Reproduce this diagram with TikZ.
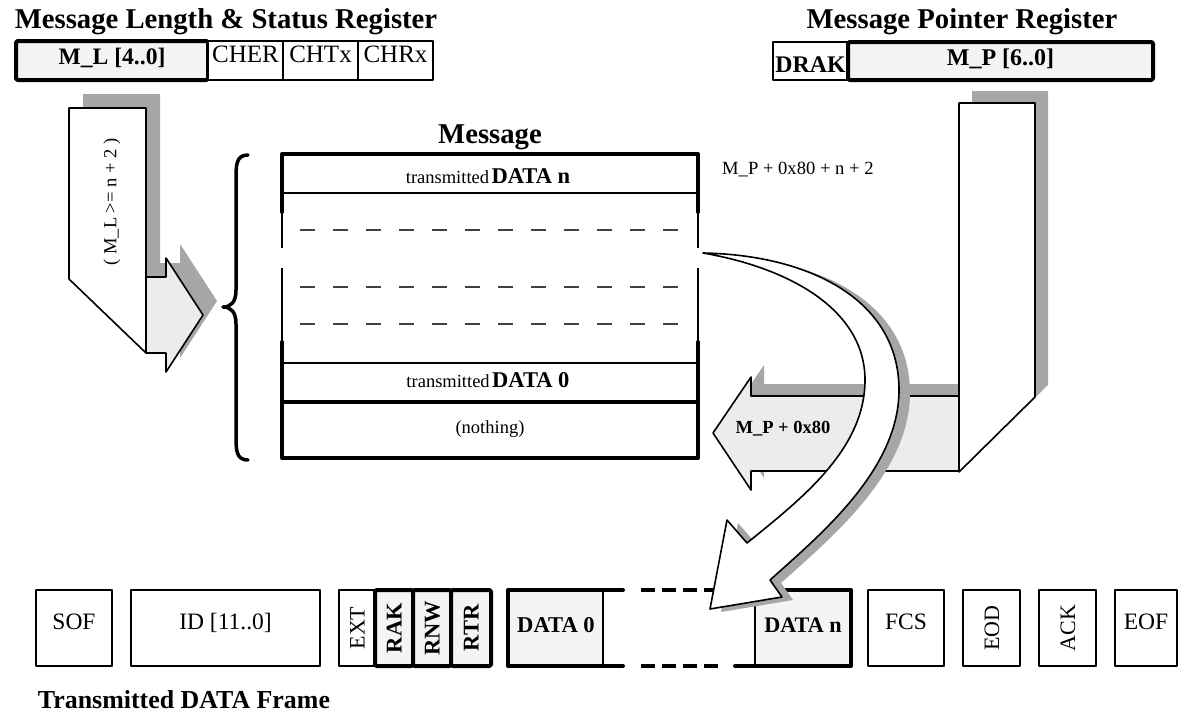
\documentclass[tikz,border=0pt]{standalone}
\usepackage{fontspec}
\setmainfont{Liberation Serif}
\newcommand\myfs[1]{\fontsize{#1}{#1}\selectfont}
\definecolor{shad}{HTML}{A6A6A6}
\definecolor{lfill}{HTML}{F4F4F4}
\definecolor{afill}{HTML}{ECECEC}
\begin{document}
\begin{tikzpicture}[x=1pt,y=-1pt,line join=round,
  thinbox/.style={draw, line width=1.2pt, fill=white, inner sep=0pt},
  thickbox/.style={draw, line width=4pt, rounded corners=1.5pt, fill=lfill, inner sep=0pt},
  titletxt/.style={font=\bfseries\myfs{28.7}, anchor=base, inner sep=0pt},
  fbox/.style={draw, line width=1.2pt, minimum height=76, inner sep=0pt, font=\myfs{23.5}, text height=15.5, text depth=12},
  rbox/.style={draw, line width=1.2pt, rotate=90, minimum width=76, inner sep=0pt, font=\myfs{22}, text height=15, text depth=0},
  rtbox/.style={thickbox, rotate=90, minimum width=76, font=\bfseries\myfs{22.5}, text height=15, text depth=0},
  thickline/.style={line width=4pt, line cap=round},
  thinline/.style={line width=1.3pt},
  arrowline/.style={draw, line width=1.6pt}
]
\useasboundingbox (0,0) rectangle (1187,715);

% ---------- titles
\node[titletxt] (t1) at (226,28) {Message Length \& Status Register};
\node[titletxt] (t2) at (962,28) {Message Pointer Register};
\node[titletxt] (t3) at (490,143) {Message};
\node[titletxt, font=\bfseries\myfs{25.9}] (t4) at (184,708) {Transmitted DATA Frame};

% ---------- top left register
\node[thickbox, minimum width=192, minimum height=39, font=\bfseries\myfs{23.6}, text height=16, text depth=8] (ml) at (112,60.5) {M\_L [4..0]};
\node[thinbox, minimum width=75, minimum height=39, font=\myfs{25}, text height=16.5, text depth=13] (cher) at (245.5,60.5) {CHER};
\node[thinbox, minimum width=75, minimum height=39, font=\myfs{25}, text height=16.5, text depth=13] (chtx) at (320.5,60.5) {CHTx};
\node[thinbox, minimum width=75, minimum height=39, font=\myfs{25}, text height=16.5, text depth=13] (chrx) at (395.5,60.5) {CHRx};

% ---------- top right register
\node[thinbox, minimum width=75, minimum height=38, font=\bfseries\myfs{23.8}, text height=22, text depth=0] (drak) at (810.5,61) {DRAK};
\node[thickbox, minimum width=305, minimum height=38, font=\bfseries\myfs{24}, text height=16, text depth=8] (mp) at (1000.5,61) {M\_P [6..0]};

% ---------- left arrow (M_L)
\fill[shad, shift={(14,-14)}] (69,108)--(146,108)--(146,277)--(166,277)--(166,258)--(203,315)--(166,372)--(166,353)--(146,353)--(69,279)--cycle;
\path[arrowline, fill=white] (69,108)--(146,108)--(146,353)--(69,279)--cycle;
\path[arrowline, fill=afill] (146,277)--(166,277)--(166,258)--(203,315)--(166,372)--(166,353)--(146,353)--cycle;
\node[rotate=90, font=\myfs{18.5}] (mlcond) at (112,202) {( M\_L >= n + 2 )};

% ---------- right arrow (M_P)
\fill[shad, shift={(13,-12)}] (959,103)--(1035,103)--(1035,397)--(959,472)--(751,471)--(751,490)--(713,433)--(751,377)--(751,396)--(959,396)--cycle;
\path[arrowline, fill=afill] (959,396)--(751,396)--(751,377)--(713,433)--(751,490)--(751,471)--(959,471)--cycle;
\path[arrowline, fill=white] (959,103)--(1035,103)--(1035,397)--(959,472)--cycle;
\node[font=\bfseries\myfs{18.5}] (mp80) at (783,429) {M\_P + 0x80};

% ---------- brace
\draw[line width=3.5pt, line cap=round] (248,155) .. controls (236,155) and (236,165) .. (236,180) -- (236,290) .. controls (236,302) and (231,307) .. (223,307) .. controls (231,307) and (236,312) .. (236,324) -- (236,435) .. controls (236,450) and (236,460) .. (248,460);

% ---------- message block
\draw[thickline] (282,212) -- (282,154) -- (698,154) -- (698,212);
\draw[thinline] (282,193) -- (698,193);
\draw[thinline] (282,212)--(282,248) (282,268)--(282,342) (698,212)--(698,248) (698,268)--(698,342);
\draw[thickline] (282,342)--(282,458)--(698,458)--(698,342);
\draw[line width=1.6pt] (282,363)--(698,363);
\draw[line width=3.5pt] (282,402)--(698,402);
\draw[line width=1.2pt, black!75, dash pattern=on 15pt off 18pt] (300,230)--(680,230) (300,287)--(680,287) (300,324)--(680,324);
\node[anchor=base, inner sep=0pt] (rown) at (488,183) {{\myfs{18.5}transmitted} {\bfseries\myfs{22.5}DATA n}};
\node[anchor=base, inner sep=0pt] (row0) at (488,387) {{\myfs{18.5}transmitted} {\bfseries\myfs{22.5}DATA 0}};
\node[anchor=base, inner sep=0pt, font=\myfs{18.5}] (rownone) at (490,433) {(nothing)};
\node[anchor=west, inner sep=0pt, font=\myfs{18.6}] (addr) at (722,170) {M\_P + 0x80 + n + 2};

% ---------- bottom frame
\node[fbox, minimum width=76] (sof) at (74,628) {SOF};
\node[fbox, minimum width=189] (id) at (225.5,628) {ID [11..0]};
\node[rbox, minimum height=36] (ext) at (357,628) {EXT};
\node[rtbox, minimum height=38] (rak) at (394,628) {RAK};
\node[rtbox, minimum height=38] (rnw) at (432,628) {RNW};
\node[rtbox, minimum height=40] (rtr) at (471,628) {RTR};

\fill[lfill] (508,590) rectangle (603,666);
\draw[line width=1.2pt] (603,590)--(603,666);
\draw[thickline] (623,590) -- (508,590) -- (508,666) -- (623,666);
\node[font=\bfseries\myfs{22.6}] (d0) at (556,625) {DATA 0};

\draw[line width=3.5pt, dash pattern=on 14pt off 7pt] (641,590)--(718,590) (641,666)--(718,666);

\fill[lfill] (755,590) rectangle (851,666);
\draw[line width=1.2pt] (755,590)--(755,666);
\draw[thickline] (735,590) -- (851,590) -- (851,666) -- (735,666);
\node[font=\bfseries\myfs{22.2}] (dn) at (803,625) {DATA n};

\node[fbox, minimum width=76] (fcs) at (906,628) {FCS};
\node[rbox, minimum height=57] (eod) at (991.5,628) {EOD};
\node[rbox, minimum height=57] (ack) at (1067.5,628) {ACK};
\node[fbox, minimum width=62] (eof) at (1146,628) {EOF};

% ---------- curved arrow
\fill[shad, shift={(11,3)}] (703,253) .. controls (810,255) and (899,300) .. (899,390) .. controls (899,470) and (820,535) .. (770,580) -- (782,597) -- (710,609) -- (727,520) -- (747,543) .. controls (800,500) and (865,450) .. (865,380) .. controls (865,310) and (790,268) .. (703,253) -- cycle;
\path[arrowline, fill=white] (703,253) .. controls (810,255) and (899,300) .. (899,390) .. controls (899,470) and (820,535) .. (770,580) -- (782,597) -- (710,609) -- (727,520) -- (747,543) .. controls (800,500) and (865,450) .. (865,380) .. controls (865,310) and (790,268) .. (703,253) -- cycle;
\end{tikzpicture}
\end{document}
